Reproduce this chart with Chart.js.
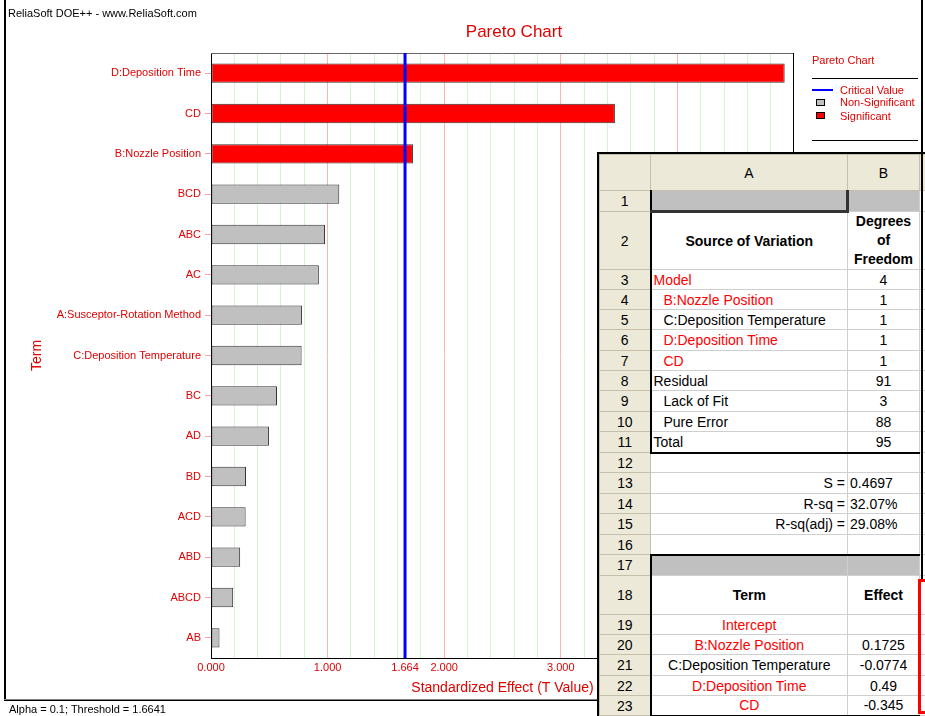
<!DOCTYPE html>
<html>
<head>
<meta charset="utf-8">
<title>Pareto Chart</title>
<script src="https://cdn.jsdelivr.net/npm/chart.js@4.4.1/dist/chart.umd.min.js"></script>
<style>
  body { margin: 0; background: #fff; font-family: "Liberation Sans", Arial, sans-serif; }
  #page { position: relative; width: 925px; height: 716px; overflow: hidden; background: #fff; }
  #plot { position: absolute; left: 0; top: 0; width: 925px; height: 700px; }
  .abs { position: absolute; white-space: nowrap; }
  .small { font-size: 11px; line-height: 12px; }
  .red { color: #ff0000; }
  .chartRed { color: #e00000; }

  /* spreadsheet overlay */
  #sheet { position: absolute; left: 597px; top: 152px; width: 328px; height: 564px; overflow: hidden;
           border-left: 2px solid #000; border-top: 2px solid #000; box-sizing: border-box; background: #fff; }
  #sheet table { border-collapse: collapse; table-layout: fixed; width: 360px; font-size: 14px; }
  #sheet td { border: 1px solid #cfcfcf; padding: 0 2px; white-space: nowrap; overflow: hidden; line-height: 16px; }
  #sheet td.rh, #sheet td.ch { background: #ece9d8; text-align: center; border-color: #c4c0ac; }
  #sheet td.g { background: #c0c0c0; }
  #sheet td.c { text-align: center; }
  #sheet td.r { text-align: right; }
  #sheet td.b { font-weight: bold; }
  #sheet td.in { padding-left: 12px; }
  #sheet td.bl { border-left: 2px solid #000; }
  #sheet td.bb { border-bottom: 2px solid #000; }
  #sheet td.bt { border-top: 2px solid #000; }
  #sheet td.cur { border-right: 3px solid #333; border-bottom: 3px solid #333; }
</style>
</head>
<body>
<div id="page">
  <div id="plot"><canvas id="pareto"></canvas></div>

  <!-- window frame and captions -->
  <div class="abs" style="left:4px;top:0;width:2px;height:700px;background:#000"></div>
  <div class="abs small" style="left:8px;top:7px">ReliaSoft DOE++ - www.ReliaSoft.com</div>
  <div class="abs chartRed" style="left:454px;top:22px;width:120px;text-align:center;font-size:17px;line-height:20px">Pareto Chart</div>

  <!-- legend -->
  <div class="abs small chartRed" style="left:812px;top:54px">Pareto Chart</div>
  <div class="abs" style="left:812px;top:78px;width:106px;height:1px;background:#000"></div>
  <div class="abs" style="left:812px;top:89px;width:21px;height:2px;background:#0000ff"></div>
  <div class="abs small chartRed" style="left:840px;top:84px">Critical Value</div>
  <div class="abs" style="left:816px;top:99px;width:7px;height:5px;background:#c0c0c0;border:1px solid #000"></div>
  <div class="abs small chartRed" style="left:840px;top:96px">Non-Significant</div>
  <div class="abs" style="left:816px;top:112px;width:7px;height:5px;background:#ff0000;border:1px solid #000"></div>
  <div class="abs small chartRed" style="left:840px;top:110px">Significant</div>
  <div class="abs" style="left:812px;top:140px;width:106px;height:1px;background:#000"></div>

  <div id="sheet">
    <table>
      <colgroup><col style="width:51px"><col style="width:197px"><col style="width:72px"><col style="width:40px"></colgroup>
      <tr style="height:36px"><td class="ch"></td><td class="ch">A</td><td class="ch">B</td><td class="ch">C</td></tr>
      <tr style="height:21px"><td class="rh">1</td><td class="g cur bl"></td><td class="g"></td><td></td></tr>
      <tr style="height:57px"><td class="rh">2</td><td class="b c bl">Source of Variation</td><td class="b c" style="line-height:19px">Degrees<br>of<br>Freedom</td><td></td></tr>
      <tr style="height:20px"><td class="rh">3</td><td class="bl red">Model</td><td class="c">4</td><td></td></tr>
      <tr style="height:20px"><td class="rh">4</td><td class="bl in red">B:Nozzle Position</td><td class="c">1</td><td></td></tr>
      <tr style="height:20px"><td class="rh">5</td><td class="bl in">C:Deposition Temperature</td><td class="c">1</td><td></td></tr>
      <tr style="height:21px"><td class="rh">6</td><td class="bl in red">D:Deposition Time</td><td class="c">1</td><td></td></tr>
      <tr style="height:20px"><td class="rh">7</td><td class="bl in red">CD</td><td class="c">1</td><td></td></tr>
      <tr style="height:20px"><td class="rh">8</td><td class="bl">Residual</td><td class="c">91</td><td></td></tr>
      <tr style="height:21px"><td class="rh">9</td><td class="bl in">Lack of Fit</td><td class="c">3</td><td></td></tr>
      <tr style="height:20px"><td class="rh">10</td><td class="bl in">Pure Error</td><td class="c">88</td><td></td></tr>
      <tr style="height:21px"><td class="rh">11</td><td class="bl bb">Total</td><td class="c bb">95</td><td></td></tr>
      <tr style="height:20px"><td class="rh">12</td><td></td><td></td><td></td></tr>
      <tr style="height:21px"><td class="rh">13</td><td class="r">S =</td><td>0.4697</td><td></td></tr>
      <tr style="height:20px"><td class="rh">14</td><td class="r">R-sq =</td><td>32.07%</td><td></td></tr>
      <tr style="height:21px"><td class="rh">15</td><td class="r">R-sq(adj) =</td><td>29.08%</td><td></td></tr>
      <tr style="height:20px"><td class="rh">16</td><td></td><td></td><td></td></tr>
      <tr style="height:21px"><td class="rh">17</td><td class="g bl bt"></td><td class="g bt"></td><td></td></tr>
      <tr style="height:39px"><td class="rh">18</td><td class="b c bl">Term</td><td class="b c">Effect</td><td></td></tr>
      <tr style="height:20px"><td class="rh">19</td><td class="c bl red">Intercept</td><td class="c"></td><td></td></tr>
      <tr style="height:20px"><td class="rh">20</td><td class="c bl red">B:Nozzle Position</td><td class="c">0.1725</td><td></td></tr>
      <tr style="height:21px"><td class="rh">21</td><td class="c bl">C:Deposition Temperature</td><td class="c">-0.0774</td><td></td></tr>
      <tr style="height:20px"><td class="rh">22</td><td class="c bl red">D:Deposition Time</td><td class="c">0.49</td><td></td></tr>
      <tr style="height:20px"><td class="rh">23</td><td class="c bl bb red">CD</td><td class="c bb">-0.345</td><td></td></tr>
    </table>
  </div>
  <div class="abs" style="left:918px;top:579px;width:10px;height:129px;border:3px solid #ff0000"></div>
  <div class="abs" style="left:921px;top:0;width:2px;height:579px;background:#000"></div>

  <!-- status bar -->
  <div class="abs" style="left:4px;top:699px;width:593px;height:1px;background:#808080"></div>
  <div class="abs" style="left:4px;top:700px;width:593px;height:1px;background:#000"></div>
  <div class="abs small" style="left:9px;top:703px">Alpha = 0.1; Threshold = 1.6641</div>
</div>

<script>
// terms in Pareto order, top to bottom
const terms = ['D:Deposition Time', 'CD', 'B:Nozzle Position', 'BCD', 'ABC', 'AC',
  'A:Susceptor-Rotation Method', 'C:Deposition Temperature', 'BC', 'AD', 'BD',
  'ACD', 'ABD', 'ABCD', 'AB'];
// standardized effects (|t| values)
const tValues = [4.92, 3.464, 1.732, 1.10, 0.978, 0.925, 0.78, 0.777, 0.566, 0.497,
  0.30, 0.297, 0.25, 0.19, 0.073];
const criticalValue = 1.6641;
const xMin = 0;
const xMax = 5;
const xStep = 0.2;

const labelRed = '#e00000';
const family = '"Liberation Sans", Arial, sans-serif';
Chart.defaults.font.family = family;

function isWhole(v) {
  return Math.abs(v - Math.round(v)) < 1e-6;
}
function isCritical(v) {
  return Math.abs(v - criticalValue) < 1e-9;
}

/* ======= critical value line and plot frame ======= */
const criticalLine = {
  id: 'criticalLine',
  afterDatasetsDraw(chart) {
    const ctx = chart.ctx;
    const a = chart.chartArea;
    const px = chart.scales.x.getPixelForValue(criticalValue);
    ctx.save();
    ctx.strokeStyle = '#666666';
    ctx.lineWidth = 1;
    ctx.beginPath();
    ctx.moveTo(a.left, a.top + 0.5);
    ctx.lineTo(a.right, a.top + 0.5);
    ctx.stroke();
    ctx.strokeStyle = '#000000';
    ctx.beginPath();
    ctx.moveTo(a.right - 0.5, a.top);
    ctx.lineTo(a.right - 0.5, a.bottom);
    ctx.stroke();
    ctx.strokeStyle = '#0000ff';
    ctx.lineWidth = 3;
    ctx.beginPath();
    ctx.moveTo(px, a.top);
    ctx.lineTo(px, a.bottom);
    ctx.stroke();
    ctx.restore();
  }
};

new Chart(document.getElementById('pareto'), {
  type: 'bar',
  data: {
    labels: terms,
    datasets: [{
      label: 'Standardized Effect',
      data: tValues,
      backgroundColor: tValues.map(v => v > criticalValue ? '#ff0000' : '#c0c0c0'),
      borderColor: '#333333',
      borderWidth: 1,
      borderSkipped: false,
      barPercentage: 0.48,
      categoryPercentage: 1
    }]
  },
  options: {
    indexAxis: 'y',
    responsive: true,
    maintainAspectRatio: false,
    animation: false,
    layout: { padding: { left: 6, right: 131, top: 53, bottom: 0 } },
    plugins: {
      legend: { display: false },
      tooltip: { enabled: false }
    },
    scales: {
      x: {
        type: 'linear',
        min: xMin,
        max: xMax,
        afterBuildTicks: scale => {
          scale.ticks.push({ value: criticalValue });
          scale.ticks.sort((a, b) => a.value - b.value);
        },
        ticks: {
          stepSize: xStep,
          autoSkip: false,
          maxRotation: 0,
          padding: 3,
          color: labelRed,
          font: { size: 11 },
          callback: v => (isWhole(v) || isCritical(v)) ? v.toFixed(3) : ''
        },
        grid: {
          drawTicks: false,
          color: c => {
            const v = c.tick ? c.tick.value : 0;
            if (isCritical(v) || v === xMin || v === xMax) return 'rgba(0,0,0,0)';
            return isWhole(v) ? '#ffb4b4' : '#d2f6d2';
          }
        },
        border: { color: '#000000' },
        title: {
          display: true,
          text: 'Standardized Effect (T Value)',
          color: labelRed,
          font: { size: 14 },
          padding: { top: 0, bottom: 3 }
        },
        afterFit: scale => {
          scale.height = 42;
          scale.paddingLeft = 0;
          scale.paddingRight = 0;
        }
      },
      y: {
        ticks: {
          autoSkip: false,
          padding: 4,
          color: labelRed,
          font: { size: 11 }
        },
        grid: {
          offset: false,
          drawOnChartArea: false,
          drawTicks: true,
          tickLength: 6,
          tickColor: '#ffa0a0'
        },
        border: { color: '#000000' },
        title: {
          display: true,
          text: 'Term',
          color: labelRed,
          font: { size: 14 },
          padding: { top: 23, bottom: 0 }
        },
        afterFit: scale => {
          scale.width = 205;
        }
      }
    }
  },
  plugins: [criticalLine]
});
</script>
</body>
</html>
